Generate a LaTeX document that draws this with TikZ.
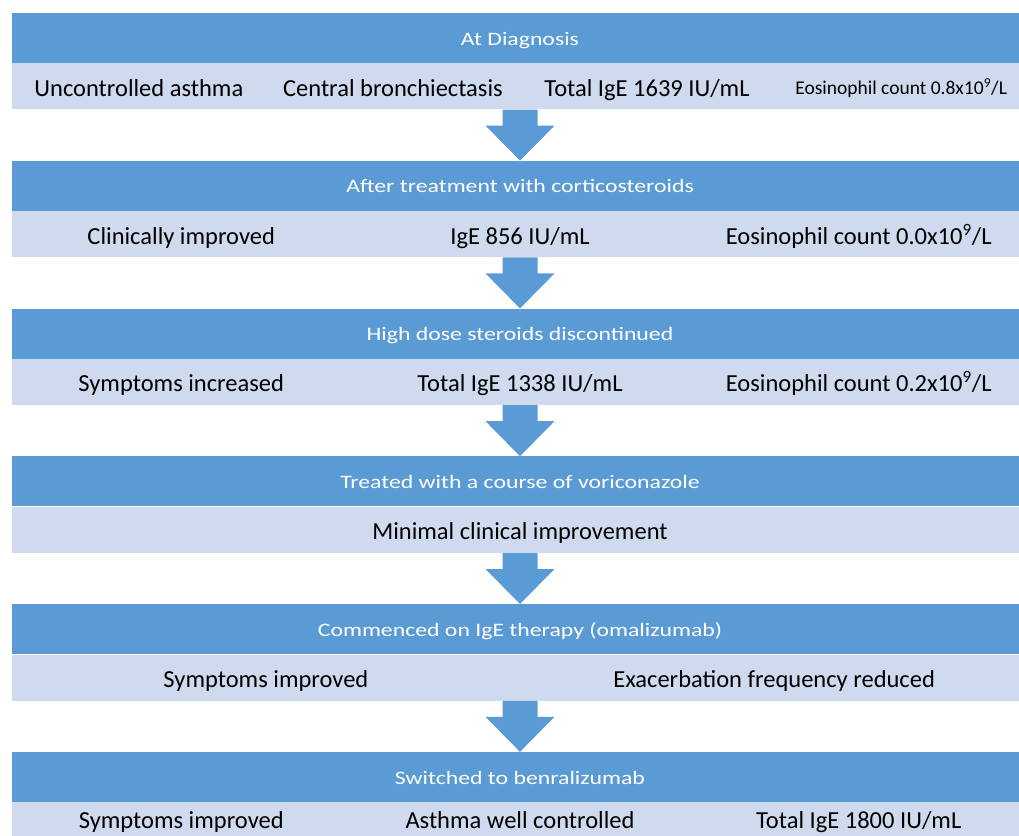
\documentclass[tikz,border=0pt]{standalone}
\usepackage{fontspec}
\setmainfont{Carlito}
\newfontfamily\hdfont[FakeStretch=1.25]{Carlito}
\usetikzlibrary{positioning,calc}
\definecolor{hdblue}{HTML}{5B9BD5}
\definecolor{rowfill}{HTML}{CFDAEE}
\tikzset{
  hd/.style={fill=hdblue,minimum width=1016pt,minimum height=50pt,inner sep=0pt,text=white,
    text height=14.5pt,text depth=0.3pt,font=\hdfont\fontsize{19}{22}\selectfont},
  row/.style={fill=rowfill,minimum width=1016pt,minimum height=46pt,inner sep=0pt},
  txt/.style={inner sep=0pt,text height=21pt,text depth=1.2pt,font=\fontsize{24.5}{28}\selectfont},
  stxt/.style={inner sep=0pt,text height=17pt,text depth=0.4pt,font=\fontsize{19.5}{23}\selectfont},
  ltxt/.style={txt,yshift=7pt},
  blk/.style={fill=hdblue},
}

\begin{document}
\begin{tikzpicture}[x=1pt,y=-1pt]
\clip (0,0) rectangle (1019,835);
% stages
\node[hd] (h1) at (520,38) {At Diagnosis};
\node[row,below=0pt of h1] (r1) {};
\node[hd,below=51pt of r1] (h2) {After treatment with corticosteroids};
\node[row,below=0pt of h2] (r2) {};
\node[hd,below=51pt of r2] (h3) {High dose steroids discontinued};
\node[row,below=0pt of h3] (r3) {};
\node[hd,below=51pt of r3] (h4) {Treated with a course of voriconazole};
\node[row,below=0pt of h4] (r4) {};
\node[hd,below=51pt of r4] (h5) {Commenced on IgE therapy (omalizumab)};
\node[row,below=0pt of h5] (r5) {};
\node[hd,below=51pt of r5] (h6) {Switched to benralizumab};
\node[row,below=0pt of h6] (r6) {};
% findings
\node[txt] (r1a) at ($(r1.west)!0.125!(r1.east)$) {Uncontrolled asthma};
\node[txt] (r1b) at ($(r1.west)!0.375!(r1.east)$) {Central bronchiectasis};
\node[txt] (r1c) at ($(r1.west)!0.625!(r1.east)$) {Total IgE 1639 IU/mL};
\node[stxt] (r1d) at ($(r1.west)!0.875!(r1.east)$) {Eosinophil count 0.8x10\textsuperscript{9}/L};
\node[txt] (r2a) at ($(r2.west)!0.1667!(r2.east)$) {Clinically improved};
\node[txt] (r2b) at (r2.center) {IgE 856 IU/mL};
\node[txt] (r2c) at ($(r2.west)!0.8333!(r2.east)$) {Eosinophil count 0.0x10\textsuperscript{9}/L};
\node[txt] (r3a) at ($(r3.west)!0.1667!(r3.east)$) {Symptoms increased};
\node[txt] (r3b) at (r3.center) {Total IgE 1338 IU/mL};
\node[txt] (r3c) at ($(r3.west)!0.8333!(r3.east)$) {Eosinophil count 0.2x10\textsuperscript{9}/L};
\node[txt] (r4a) at (r4.center) {Minimal clinical improvement};
\node[txt] (r5a) at ($(r5.west)!0.25!(r5.east)$) {Symptoms improved};
\node[txt] (r5b) at ($(r5.west)!0.75!(r5.east)$) {Exacerbation frequency reduced};
\node[ltxt] (r6a) at ($(r6.west)!0.1667!(r6.east)$) {Symptoms improved};
\node[ltxt] (r6b) at (r6.center) {Asthma well controlled};
\node[ltxt] (r6c) at ($(r6.west)!0.8333!(r6.east)$) {Total IgE 1800 IU/mL};
% block arrows
\foreach \u/\v in {r1/h2,r2/h3,r3/h4,r4/h5,r5/h6}
  \fill[blk] ([xshift=-17.5pt]\u.south) -- ([xshift=17.5pt]\u.south)
    -- ([xshift=17.5pt,yshift=-16pt]\u.south) -- ([xshift=34.5pt,yshift=-16pt]\u.south)
    -- (\v.north) -- ([xshift=-34.5pt,yshift=-16pt]\u.south)
    -- ([xshift=-17.5pt,yshift=-16pt]\u.south) -- cycle;
\end{tikzpicture}
\end{document}
